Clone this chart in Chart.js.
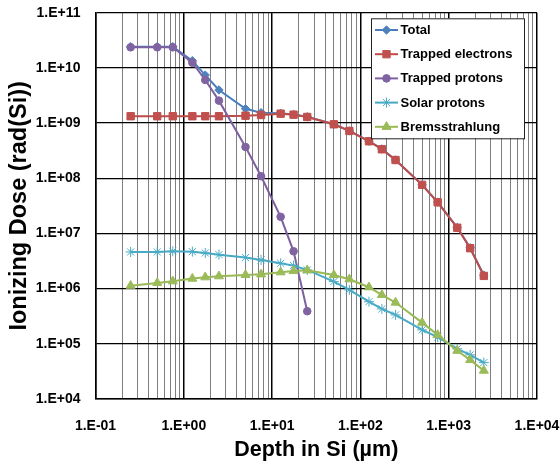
<!DOCTYPE html>
<html>
<head>
<meta charset="utf-8">
<script src="https://cdn.jsdelivr.net/npm/chart.js@4.4.1/dist/chart.umd.min.js"></script>
<style>
  html, body { margin: 0; padding: 0; background: #fff; }
  canvas { display: block; }
</style>
</head>
<body>
<canvas id="dose-chart" width="560" height="463"></canvas>
<script>
// 深度 (µm)
const depth = [0.25, 0.5, 0.75, 1.25, 1.75, 2.5, 5, 7.5, 12.5, 17.5, 25, 50, 75, 125, 175, 250, 500, 750, 1250, 1750, 2500];

// 各成分剂量 rad(Si)
const total = [2.42e10, 2.42e10, 2.42e10, 1.35e10, 7.4e9, 3.98e9, 1.82e9, 1.54e9, 1.5e9, 1.43e9, 1.3e9, 9.5e8, 7.2e8, 4.7e8, 3.4e8, 2.15e8, 7.6e7, 3.7e7, 1.28e7, 5.5e6, 1.75e6];
const trappedElectrons = [1.33e9, 1.33e9, 1.33e9, 1.33e9, 1.33e9, 1.33e9, 1.36e9, 1.4e9, 1.48e9, 1.42e9, 1.29e9, 9.5e8, 7.2e8, 4.68e8, 3.35e8, 2.14e8, 7.6e7, 3.67e7, 1.27e7, 5.4e6, 1.7e6];
const trappedProtons = [2.36e10, 2.36e10, 2.36e10, 1.24e10, 6.04e9, 2.55e9, 3.69e8, 1.09e8, 2.0e7, 4.75e6, 3.9e5];
const solarProtons = [4.62e6, 4.62e6, 4.75e6, 4.68e6, 4.43e6, 4.13e6, 3.65e6, 3.31e6, 2.88e6, 2.61e6, 2.18e6, 1.34e6, 9.5e5, 5.8e5, 4.29e5, 3.34e5, 1.79e5, 1.32e5, 8.1e4, 6.3e4, 4.57e4];
const bremsstrahlung = [1.13e6, 1.27e6, 1.36e6, 1.52e6, 1.61e6, 1.68e6, 1.77e6, 1.82e6, 1.98e6, 2.09e6, 2.15e6, 1.77e6, 1.48e6, 1.06e6, 7.7e5, 5.6e5, 2.42e5, 1.45e5, 7.5e4, 5.1e4, 3.27e4];

// 刻度
const xTickValues = [0.1, 1, 10, 100, 1000, 10000];
const xTickLabels = ["1.E-01", "1.E+00", "1.E+01", "1.E+02", "1.E+03", "1.E+04"];
const yTickValues = [1e4, 1e5, 1e6, 1e7, 1e8, 1e9, 1e10, 1e11];
const yTickLabels = ["1.E+04", "1.E+05", "1.E+06", "1.E+07", "1.E+08", "1.E+09", "1.E+10", "1.E+11"];
const minorSteps = [2, 3, 4, 5, 6, 7, 8, 9];

const FONT = "'Liberation Sans', Arial, sans-serif";

function findMajor(values, v) {
    return values.findIndex(t => Math.abs(v / t - 1) < 1e-9);
}

// x 轴：十进制主刻度 + 2..9 次刻度
const xTicks = [];
xTickValues.forEach((v, i) => {
    xTicks.push(v);
    if (i < xTickValues.length - 1) minorSteps.forEach(m => xTicks.push(v * m));
});

function toPoints(vals) {
    return vals.map((y, i) => ({ x: depth[i], y }));
}

const series = [
    { label: "Total", data: total, line: "#4A7EBB", fill: "#4F81BD", style: "rectRot", radius: 4.2 },
    { label: "Trapped electrons", data: trappedElectrons, line: "#BE4B48", fill: "#C0504D", style: "rect", radius: 5.2 },
    { label: "Trapped protons", data: trappedProtons, line: "#7D60A0", fill: "#8064A2", style: "circle", radius: 3.8 },
    { label: "Solar protons", data: solarProtons, line: "#46AAC5", fill: "#4BACC6", style: "star", radius: 5 },
    { label: "Bremsstrahlung", data: bremsstrahlung, line: "#98B954", fill: "#9BBB59", style: "triangle", radius: 5.2 }
];

// 图内图例（线 + 标记）
const insideLegend = {
    id: "insideLegend",
    afterDraw(chart) {
        const ctx = chart.ctx;
        const area = chart.chartArea;
        const w = 153, h = 120;
        const x0 = area.right - 13 - w;
        const y0 = area.top + 5.6;
        ctx.save();
        ctx.fillStyle = "#fff";
        ctx.fillRect(x0, y0, w, h);
        ctx.strokeStyle = "#222";
        ctx.lineWidth = 1;
        ctx.strokeRect(x0 + 0.5, y0 + 0.5, w, h);
        ctx.font = "bold 13px " + FONT;
        ctx.textBaseline = "middle";
        ctx.textAlign = "left";
        series.forEach((s, i) => {
            const y = y0 + 11.7 + i * 24.2;
            ctx.strokeStyle = s.line;
            ctx.lineWidth = 2;
            ctx.beginPath();
            ctx.moveTo(x0 + 4, y);
            ctx.lineTo(x0 + 27, y);
            ctx.stroke();
            ctx.fillStyle = s.fill;
            ctx.strokeStyle = s.fill;
            ctx.lineWidth = 1;
            if (Chart.helpers && Chart.helpers.drawPoint) {
                Chart.helpers.drawPoint(ctx, { pointStyle: s.style, radius: s.radius, rotation: 0, borderWidth: 1 }, x0 + 15.5, y);
            }
            ctx.fillStyle = "#000";
            ctx.fillText(s.label, x0 + 29.5, y + 0.5);
        });
        ctx.restore();
    }
};

const ctx = document.getElementById("dose-chart").getContext("2d");
new Chart(ctx, {
    type: "line",
    data: {
        datasets: series.map((s, i) => ({
            label: s.label,
            data: toPoints(s.data),
            borderColor: s.line,
            backgroundColor: s.fill,
            pointBackgroundColor: s.fill,
            pointBorderColor: s.fill,
            pointBorderWidth: 1,
            pointStyle: s.style,
            pointRadius: s.radius,
            borderWidth: 2,
            tension: 0,
            fill: false,
            order: series.length - i
        }))
    },
    options: {
        responsive: false,
        animation: false,
        events: [],
        layout: { padding: { top: 12.7, right: 23, bottom: 0, left: 0 } },
        plugins: { legend: { display: false }, tooltip: { enabled: false } },
        scales: {
            x: {
                type: "logarithmic",
                min: 0.1,
                max: 10000,
                afterBuildTicks: s => { s.ticks = xTicks.map(v => ({ value: v })); },
                afterFit: s => { s.height = 64; s.paddingLeft = 0; s.paddingRight = 0; },
                ticks: {
                    autoSkip: false,
                    maxRotation: 0,
                    padding: 19,
                    color: "#000",
                    font: { family: FONT, size: 14, weight: "bold" },
                    callback: v => { const i = findMajor(xTickValues, v); return i >= 0 ? xTickLabels[i] : ""; }
                },
                grid: {
                    drawTicks: false,
                    color: c => findMajor(xTickValues, c.tick.value) >= 0 ? "#000" : "#7f7f7f",
                    lineWidth: c => findMajor(xTickValues, c.tick.value) >= 0 ? 1.5 : 1
                },
                border: { color: "#000", width: 1.5 },
                title: {
                    display: true,
                    text: "Depth in Si (µm)",
                    color: "#000",
                    font: { family: FONT, size: 21.5, weight: "bold", lineHeight: 1.2 },
                    padding: { top: 0, bottom: 0 }
                }
            },
            y: {
                type: "logarithmic",
                min: 1e4,
                max: 1e11,
                afterBuildTicks: s => { s.ticks = yTickValues.map(v => ({ value: v })); },
                afterFit: s => { s.width = 95.5; s.paddingTop = 0; s.paddingBottom = 0; },
                ticks: {
                    autoSkip: false,
                    padding: 15,
                    color: "#000",
                    font: { family: FONT, size: 14, weight: "bold" },
                    callback: v => { const i = findMajor(yTickValues, v); return i >= 0 ? yTickLabels[i] : ""; }
                },
                grid: { drawTicks: false, color: "#000", lineWidth: 1.3 },
                border: { color: "#000", width: 1.5 },
                title: {
                    display: true,
                    text: "Ionizing Dose (rad(Si))",
                    color: "#000",
                    font: { family: FONT, size: 23.5, weight: "bold", lineHeight: 1.2 },
                    padding: { top: 5.5, bottom: 0 }
                }
            }
        }
    },
    plugins: [insideLegend]
});
</script>
</body>
</html>
